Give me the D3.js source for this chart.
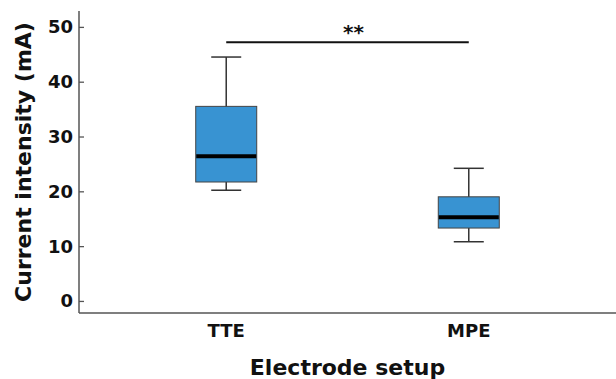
<!DOCTYPE html>
<html><head><meta charset="utf-8">
<script src="https://cdn.jsdelivr.net/npm/d3@7"></script>
<style>body{margin:0;background:#fff;} text{font-family:"DejaVu Sans",sans-serif;font-weight:bold;fill:#111;}</style>
</head><body>
<svg id="c" width="616" height="379"></svg>
<script>
const categories = ["TTE", "MPE"];
const whiskerLow  = [20.2, 10.8];
const q1          = [21.7, 13.3];
const median      = [26.4, 15.25];
const q3          = [35.5, 19.0];
const whiskerHigh = [44.5, 24.2];
const yTicks = [0, 10, 20, 30, 40, 50];
const sigLabel = "**";
const sigLevel = 47.2;
const xTitle = "Electrode setup";
const yTitle = "Current intensity (mA)";

(function () {
const svg = d3.select("#c");
const mLeft = 79, mRight = 616, mTop = 11, mBottom = 313;
const y = d3.scaleLinear().domain([-2.2, 52.9]).range([mBottom, mTop]);
const x = d3.scalePoint().domain(categories).range([mLeft, mRight]).padding(0.607);

const axisColor = "#555";
// y axis
const yAxis = svg.append("g").attr("transform", `translate(${mLeft},0)`)
  .call(d3.axisRight(y).tickValues(yTicks).tickSize(5).tickFormat(""));
yAxis.select(".domain").remove();
yAxis.selectAll(".tick line").attr("stroke", axisColor).attr("stroke-width", 1.3);
svg.append("line").attr("x1", mLeft).attr("x2", mLeft).attr("y1", mTop).attr("y2", mBottom)
  .attr("stroke", axisColor).attr("stroke-width", 1.5);
svg.append("g").selectAll("text").data(yTicks).join("text")
  .attr("x", mLeft - 6).attr("y", d => y(d)).attr("dy", "0.36em")
  .attr("text-anchor", "end").attr("font-size", 18).text(d => d);
// x axis
svg.append("line").attr("x1", mLeft).attr("x2", mRight).attr("y1", mBottom).attr("y2", mBottom)
  .attr("stroke", axisColor).attr("stroke-width", 1.5);
svg.append("g").selectAll("text").data(categories).join("text")
  .attr("x", d => x(d)).attr("y", 337).attr("text-anchor", "middle")
  .attr("font-size", 18).text(d => d);

// titles
svg.append("text").attr("x", (mLeft + mRight) / 2).attr("y", 375).attr("text-anchor", "middle")
  .attr("font-size", 22).text(xTitle);
svg.append("text").attr("transform", `translate(31,${(mTop + mBottom) / 2}) rotate(-90)`)
  .attr("text-anchor", "middle").attr("font-size", 22).text(yTitle);

// boxes
const boxW = 61, capW = 30;
const data = categories.map((c, i) => ({c, lo: whiskerLow[i], q1: q1[i], med: median[i], q3: q3[i], hi: whiskerHigh[i]}));
const g = svg.append("g").selectAll("g").data(data).join("g");
g.append("line").attr("x1", d => x(d.c)).attr("x2", d => x(d.c))
  .attr("y1", d => y(d.hi)).attr("y2", d => y(d.lo)).attr("stroke", "#333").attr("stroke-width", 1.5);
g.append("line").attr("x1", d => x(d.c) - capW / 2).attr("x2", d => x(d.c) + capW / 2)
  .attr("y1", d => y(d.hi)).attr("y2", d => y(d.hi)).attr("stroke", "#333").attr("stroke-width", 1.5);
g.append("line").attr("x1", d => x(d.c) - capW / 2).attr("x2", d => x(d.c) + capW / 2)
  .attr("y1", d => y(d.lo)).attr("y2", d => y(d.lo)).attr("stroke", "#333").attr("stroke-width", 1.5);
g.append("rect").attr("x", d => x(d.c) - boxW / 2).attr("width", boxW)
  .attr("y", d => y(d.q3)).attr("height", d => y(d.q1) - y(d.q3))
  .attr("fill", "#3893d2").attr("stroke", "#444").attr("stroke-width", 1);
g.append("line").attr("x1", d => x(d.c) - boxW / 2 + 0.5).attr("x2", d => x(d.c) + boxW / 2 - 0.5)
  .attr("y1", d => y(d.med)).attr("y2", d => y(d.med)).attr("stroke", "#000").attr("stroke-width", 4);

// significance
svg.append("line").attr("x1", x(categories[0])).attr("x2", x(categories[1]))
  .attr("y1", y(sigLevel)).attr("y2", y(sigLevel)).attr("stroke", "#111").attr("stroke-width", 2);
svg.append("text").attr("x", (x(categories[0]) + x(categories[1])) / 2 + 6).attr("y", 38.5)
  .attr("text-anchor", "middle").attr("font-size", 20).text(sigLabel);
})();
</script>
</body></html>
